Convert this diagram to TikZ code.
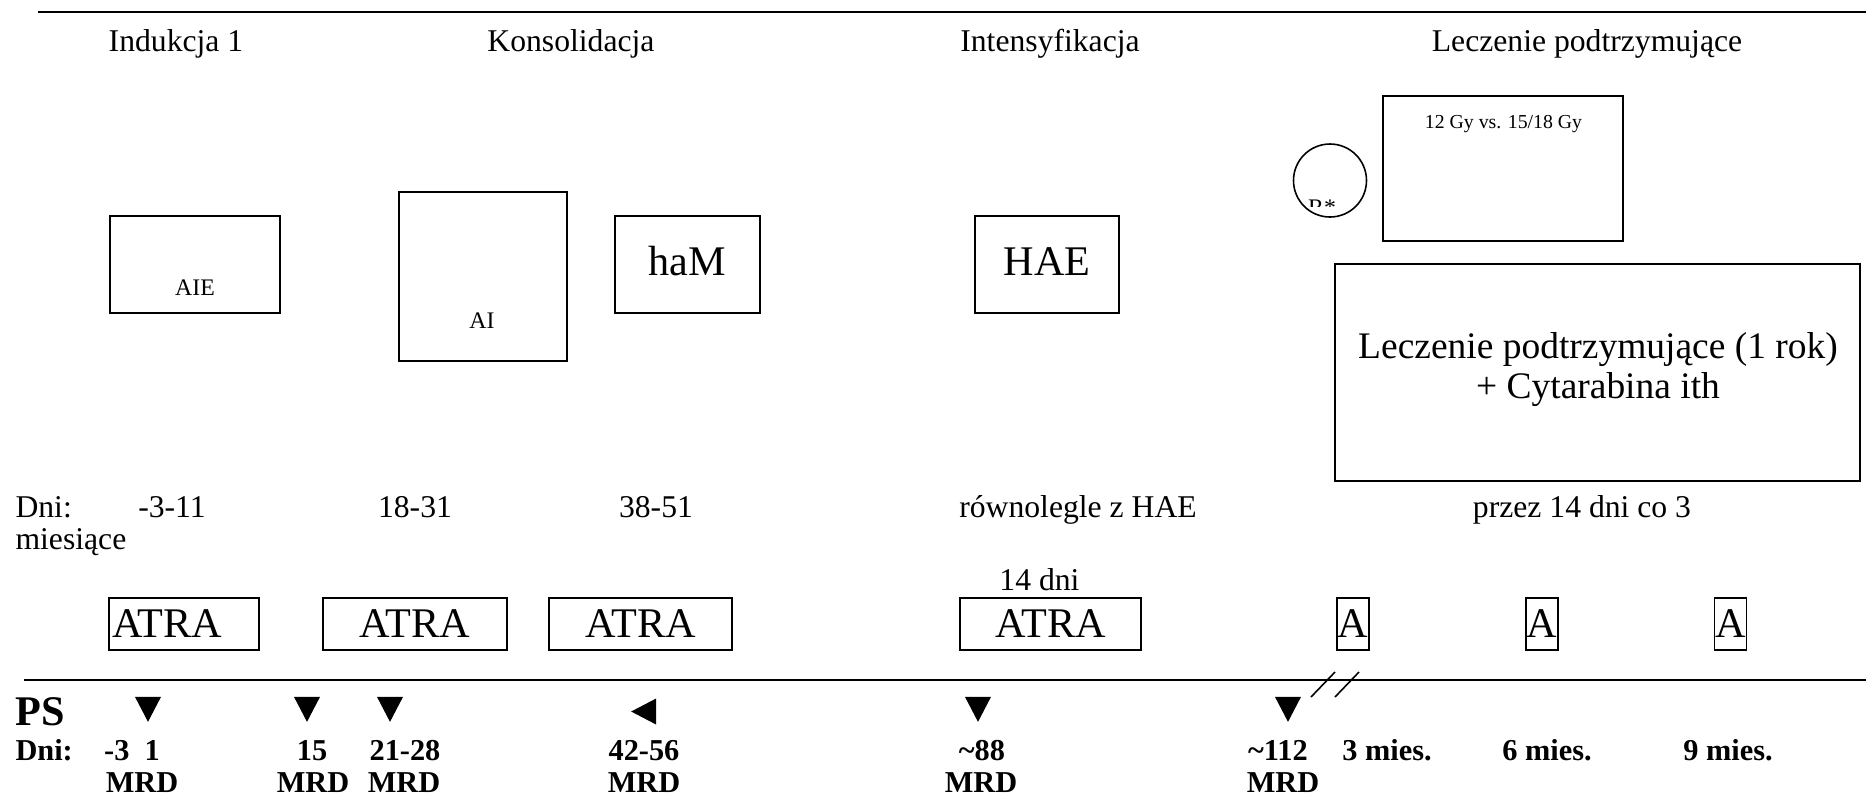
\documentclass[tikz,border=0pt]{standalone}
\usepackage{fontspec}
\setmainfont{Liberation Serif}
\usetikzlibrary{shapes}

\begin{document}
\begin{tikzpicture}[x=0.379pt, y=-0.379pt, font=\fontsize{12}{14}\selectfont]
  \def\PX{0.379pt}
  \tikzstyle{rule}=[draw, black, line width=0.8pt]
  \tikzstyle{box}=[draw, line width=0.5pt, inner sep=0pt]
  \tikzstyle{txt}=[anchor=base, inner sep=0pt]
  \tikzstyle{big}=[font=\fontsize{16}{19}\selectfont]
  \tikzstyle{small}=[font=\fontsize{9}{11}\selectfont]
  \tikzstyle{bold}=[anchor=base, inner sep=0pt, font=\bfseries\fontsize{11.5}{13}\selectfont]
  \tikzstyle{tri}=[isosceles triangle, isosceles triangle apex angle=55, fill=black,
                   inner sep=0pt, minimum size=25*\PX, anchor=apex]

  \useasboundingbox (0,0) rectangle (1866,796);

  % horizontal rules
  \coordinate (topL) at (38,12);
  \coordinate (topR) at (1866,12);
  \coordinate (psL) at (24,680);
  \coordinate (psR) at (1866,680);
  \path[rule] (topL) -- (topR);
  \path[rule] (psL) -- (psR);

  % phases
  \foreach \x/\name/\txt in
    {
      176/ind/Indukcja 1,
      571/kon/Konsolidacja,
      1050/int/Intensyfikacja,
      1587/pod/Leczenie podtrzymujące%
    }
    \node[txt] (\name) at (\x,51) {\txt};

  % therapy blocks
  \node[box, minimum width=170*\PX, minimum height=97*\PX] (aie) at (195,264.5) {};
  \node[txt, small] (aielbl) at (195,295) {AIE};
  \node[box, minimum width=168*\PX, minimum height=169*\PX] (ai) at (483,276.5) {};
  \node[txt, small] (ailbl) at (482,328) {AI};
  \node[box, minimum width=145*\PX, minimum height=97*\PX] (ham) at (687.5,264.5) {};
  \node[txt, big] (hamlbl) at (687,275) {haM};
  \node[box, minimum width=144*\PX, minimum height=97*\PX] (hae) at (1047,264.5) {};
  \node[txt, big] (haelbl) at (1047,275) {HAE};

  % radiotherapy
  \node[circle, draw, line width=0.6pt, minimum size=73*\PX, inner sep=0pt,
        path picture={
          \clip ([yshift=3.8pt]path picture bounding box.south west)
                rectangle (path picture bounding box.north east);
          \node[small, anchor=base, inner sep=0pt]
            at ([xshift=-3pt, yshift=-13.3pt]path picture bounding box.center) {R*};}]
        (rst) at (1330,180.5) {};
  \node[box, minimum width=240*\PX, minimum height=145*\PX] (rad) at (1503,168.5) {};
  \node[txt, font=\fontsize{7.5}{9}\selectfont] (radlbl) at (1503.5,128) {12 Gy vs. 15/18 Gy};

  % maintenance
  \node[box, minimum width=525*\PX, minimum height=217*\PX] (maint) at (1597.5,372.5) {};
  \node[txt, font=\fontsize{14.2}{16}\selectfont] (maintA) at (1598,358) {Leczenie podtrzymujące (1 rok)};
  \node[txt, font=\fontsize{14.2}{16}\selectfont] (maintB) at (1598,398) {+ Cytarabina ith};

  % days
  \node[txt, anchor=base west] (dni) at (15,517) {Dni:};
  \foreach \x/\txt [count=\i] in
    {
      172/-3-11,
      415/18-31,
      656/38-51,
      1078/równolegle z HAE,
      1582/przez 14 dni co 3%
    }
    \node[txt] (d\i) at (\x,517) {\txt};
  \node[txt, anchor=base west] (mies) at (15,549) {miesiące};
  \node[txt] (dni14) at (1039.5,590) {14 dni};

  % ATRA / A
  \node[box, big, minimum height=52*\PX, text width=144*\PX, inner xsep=3*\PX,
        align=left] (atra1) at (184,624) {ATRA};
  \foreach \x/\w/\name in {415/184/atra2, 640.5/183/atra3, 1050.5/181/atra4}
    \node[box, big, minimum width=\w*\PX, minimum height=52*\PX] (\name) at (\x,624) {ATRA};
  \foreach \x/\name in {1353/a1, 1542/a2, 1730.5/a3}
    \node[box, big, minimum width=32*\PX, minimum height=52*\PX] (\name) at (\x,624) {A};

  % break mark
  \coordinate (b1s) at (1311,697);
  \coordinate (b1e) at (1335,672);
  \coordinate (b2s) at (1335,697);
  \coordinate (b2e) at (1359,672);
  \draw[line width=0.6pt] (b1s) -- (b1e);
  \draw[line width=0.6pt] (b2s) -- (b2e);

  % PS
  \node[anchor=base west, inner sep=0pt, font=\bfseries\fontsize{16}{19}\selectfont] (ps) at (15,725) {PS};
  \foreach \x/\name in {148/t1, 307/t2, 390/t3, 978/t5, 1288/t6}
    \node[tri, shape border rotate=-90] (\name) at (\x,723) {};
  \node[tri, shape border rotate=180] (t4) at (630,711.5) {};

  \node[bold, anchor=base west] (dnib) at (15,760) {Dni:};
  \foreach \x/\txt [count=\i] in
    {
      132/-3\ \ 1,
      312/15,
      405/21-28,
      644/42-56,
      982/\textasciitilde88,
      1278/\textasciitilde112,
      1387/3 mies.,
      1547/6 mies.,
      1728/9 mies.%
    }
    \node[bold] (p\i) at (\x,760) {\txt};
  \foreach \x [count=\i] in {142, 313, 404, 644, 981, 1283}
    \node[bold] (mrd\i) at (\x,792) {MRD};

\end{tikzpicture}
\end{document}
